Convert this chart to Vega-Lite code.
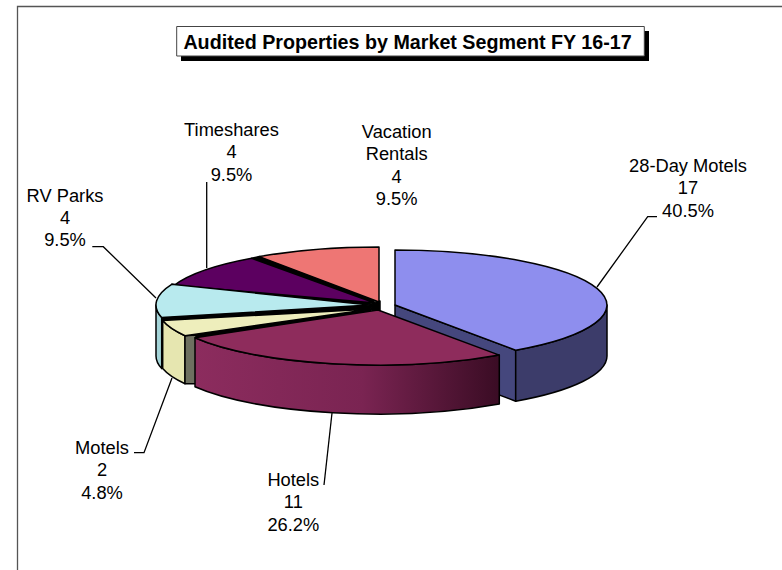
{
"$schema":"https://vega.github.io/schema/vega-lite/v6.json",
"width":782,"height":570,"padding":0,"autosize":{"type":"none"},
"background":"white",
"config":{"view":{"stroke":null}},
"datasets":{
"parts":[
{"part":"frame","group":"frame"},
{"part":"title shadow","group":"title"},
{"part":"title box","group":"box"},
{"part":"28-Day Motels inner","group":"pie"},
{"part":"28-Day Motels side","group":"pie"},
{"part":"28-Day Motels top","group":"pie"},
{"part":"wedge seams","group":"pie"},
{"part":"Vacation Rentals top","group":"pie"},
{"part":"Timeshares top","group":"pie"},
{"part":"RV Parks side","group":"pie"},
{"part":"RV Parks top","group":"pie"},
{"part":"Motels side","group":"pie"},
{"part":"Motels inner","group":"pie"},
{"part":"Motels top","group":"pie"},
{"part":"Hotels side","group":"hotelside"},
{"part":"Hotels top","group":"hoteltop"},
{"part":"28-Day Motels leader","group":"leader"},
{"part":"RV Parks leader","group":"leader"},
{"part":"Timeshares leader","group":"leader"},
{"part":"Motels leader","group":"leader"},
{"part":"Hotels leader","group":"leader"}
],
"labels":[
{"segment":"28-Day Motels","count":17,"pct":"40.5%","label":"28-Day Motels\n17\n40.5%"},
{"segment":"Hotels","count":11,"pct":"26.2%","label":"Hotels\n11\n26.2%"},
{"segment":"Motels","count":2,"pct":"4.8%","label":"Motels\n2\n4.8%"},
{"segment":"RV Parks","count":4,"pct":"9.5%","label":"RV Parks\n4\n9.5%"},
{"segment":"Timeshares","count":4,"pct":"9.5%","label":"Timeshares\n4\n9.5%"},
{"segment":"Vacation Rentals","count":4,"pct":"9.5%","label":"Vacation\nRentals\n4\n9.5%"}
],
"heading":[{"title":"Audited Properties by Market Segment FY 16-17"}]
},
"layer":[
{
"data":{"name":"parts"},
"encoding":{
"size":{"value":4},
"shape":{"field":"part","type":"nominal","legend":null,"scale":{
"domain":["frame","title shadow","title box","28-Day Motels inner","28-Day Motels side","28-Day Motels top","wedge seams","Vacation Rentals top","Timeshares top","RV Parks side","RV Parks top","Motels side","Motels inner","Motels top","Hotels side","Hotels top","28-Day Motels leader","RV Parks leader","Timeshares leader","Motels leader","Hotels leader"],
"range":[
"M-373.5 285L-373.5 -278.5L391 -278.5",
"M-210 -254H258V-224H-210Z",
"M-214.3 -258.5H253.3V-229H-214.3Z",
"M4 20L124.7 65.2L124.7 116.2L4 71Z",
"M124.7 65.2A212 55 0 0 0 216 20L216 71A212 55 0 0 1 124.7 116.2Z",
"M4 -35A212 55 0 0 1 124.7 65.2L4 20Z",
"M-131.7 -28.4L-139.3 -26.7L-16 18L-12 17ZM-216.7 0.3L-219.3 -0.7L-21 20L-16 18ZM-229.3 32.6L-228.3 35.5L-19 24L-21 20ZM-206 50.7L-196 52.8L-13 25L-19 24ZM-21 16H-11V27H-21Z",
"M-12 -38L-12 17L-131.7 -28.4A212 55 0 0 1 -12 -38Z",
"M-139.3 -26.7L-16 18L-216.7 0.3A212 55 0 0 1 -139.3 -26.7Z",
"M-229.3 32.6A214 55 0 0 1 -235 20L-235 71A214 55 0 0 0 -229.3 83.6Z",
"M-219.3 -0.7L-21 20L-229.3 32.6A214 55 0 0 1 -219.3 -0.7Z",
"M-228.3 35.5A214 55 0 0 0 -206 50.7L-206 98.7A214 55 0 0 1 -228.3 83.5Z",
"M-206 50.7L-195 50L-195 98.7L-206 98.7Z",
"M-228.3 35.5L-19 24L-206 50.7A214 55 0 0 1 -228.3 35.5Z",
"M-196 52.8A212 55 0 0 0 108.3 70.1L108.3 119.1A212 55 0 0 1 -196 101.8Z",
"M-196 52.8L-13 25L108.3 70.1A212 55 0 0 1 -196 52.8Z",
"M266 -68.3L256.7 -68.3L206 2",
"M-298.7 -38.3L-287.7 -38.3L-235 13",
"M-184.3 -103L-184.3 -17",
"M-257 167.7L-247 167.7L-219 93",
"M-67 200L-59 128"
]}},
"fill":{"field":"part","type":"nominal","legend":null,"scale":{
"domain":["frame","title shadow","title box","28-Day Motels inner","28-Day Motels side","28-Day Motels top","wedge seams","Vacation Rentals top","Timeshares top","RV Parks side","RV Parks top","Motels side","Motels inner","Motels top","Hotels side","Hotels top","28-Day Motels leader","RV Parks leader","Timeshares leader","Motels leader","Hotels leader"],
"range":["transparent","#000000","#ffffff","#45477d","#3c3c6a","#8e8eee","#000000","#ee7674","#5c0060","#a4d4d8","#b8eaee","#e6e6b0","#6e7060","#eeeebc","#7a2452","#8e2c5c","transparent","transparent","transparent","transparent","transparent"]}}
},
"layer":[
{"transform":[{"filter":"datum.group=='frame'"}],"mark":{"type":"point","filled":true,"opacity":1,"stroke":"#555555","strokeWidth":1.3}},
{"transform":[{"filter":"datum.group=='title'"}],"mark":{"type":"point","filled":true,"opacity":1,"strokeWidth":0}},
{"transform":[{"filter":"datum.group=='box'"}],"mark":{"type":"point","filled":true,"opacity":1,"stroke":"#444444","strokeWidth":1}},
{"transform":[{"filter":"datum.group=='pie'"}],"mark":{"type":"point","filled":true,"opacity":1,"stroke":"#000000","strokeWidth":1.5,"strokeJoin":"round"}},
{"transform":[{"filter":"datum.group=='hotelside'"}],"mark":{"type":"point","filled":true,"opacity":1,"stroke":"#000000","strokeWidth":1.5,"strokeJoin":"round"},"encoding":{"fill":{"value":{"gradient":"linear","x1":0,"y1":0,"x2":1,"y2":0,"stops":[{"offset":0,"color":"#8c2c5e"},{"offset":0.55,"color":"#7a2452"},{"offset":1,"color":"#3a0c24"}]}}}},
{"transform":[{"filter":"datum.group=='hoteltop'"}],"mark":{"type":"point","filled":true,"opacity":1,"stroke":"#000000","strokeWidth":1.5,"strokeJoin":"round"}},
{"transform":[{"filter":"datum.group=='leader'"}],"mark":{"type":"point","filled":true,"opacity":1,"stroke":"#000000","strokeWidth":1.3}}
]
},
{
"data":{"name":"labels"},
"encoding":{"text":{"field":"label","type":"nominal"}},
"layer":[
{"transform":[{"filter":"datum.segment=='28-Day Motels'"}],"mark":{"type":"text","font":"Liberation Sans","fontSize":18.3,"lineBreak":"\n","lineHeight":22.3,"align":"center","baseline":"alphabetic","fill":"#000000"},"encoding":{"x":{"datum":688,"type":"quantitative","scale":{"domain":[0,782]},"axis":null},"y":{"datum":172,"type":"quantitative","scale":{"domain":[0,570],"reverse":true},"axis":null}}},
{"transform":[{"filter":"datum.segment=='Hotels'"}],"mark":{"type":"text","font":"Liberation Sans","fontSize":18.3,"lineBreak":"\n","lineHeight":22.3,"align":"center","baseline":"alphabetic","fill":"#000000"},"encoding":{"x":{"datum":293.3,"type":"quantitative","scale":{"domain":[0,782]},"axis":null},"y":{"datum":486,"type":"quantitative","scale":{"domain":[0,570],"reverse":true},"axis":null}}},
{"transform":[{"filter":"datum.segment=='Motels'"}],"mark":{"type":"text","font":"Liberation Sans","fontSize":18.3,"lineBreak":"\n","lineHeight":22.3,"align":"center","baseline":"alphabetic","fill":"#000000"},"encoding":{"x":{"datum":102,"type":"quantitative","scale":{"domain":[0,782]},"axis":null},"y":{"datum":454,"type":"quantitative","scale":{"domain":[0,570],"reverse":true},"axis":null}}},
{"transform":[{"filter":"datum.segment=='RV Parks'"}],"mark":{"type":"text","font":"Liberation Sans","fontSize":18.3,"lineBreak":"\n","lineHeight":22.3,"align":"center","baseline":"alphabetic","fill":"#000000"},"encoding":{"x":{"datum":65,"type":"quantitative","scale":{"domain":[0,782]},"axis":null},"y":{"datum":201.7,"type":"quantitative","scale":{"domain":[0,570],"reverse":true},"axis":null}}},
{"transform":[{"filter":"datum.segment=='Timeshares'"}],"mark":{"type":"text","font":"Liberation Sans","fontSize":18.3,"lineBreak":"\n","lineHeight":22.3,"align":"center","baseline":"alphabetic","fill":"#000000"},"encoding":{"x":{"datum":231.5,"type":"quantitative","scale":{"domain":[0,782]},"axis":null},"y":{"datum":136,"type":"quantitative","scale":{"domain":[0,570],"reverse":true},"axis":null}}},
{"transform":[{"filter":"datum.segment=='Vacation Rentals'"}],"mark":{"type":"text","font":"Liberation Sans","fontSize":18.3,"lineBreak":"\n","lineHeight":22.3,"align":"center","baseline":"alphabetic","fill":"#000000"},"encoding":{"x":{"datum":396.7,"type":"quantitative","scale":{"domain":[0,782]},"axis":null},"y":{"datum":138,"type":"quantitative","scale":{"domain":[0,570],"reverse":true},"axis":null}}}
]
},
{
"data":{"name":"heading"},
"mark":{"type":"text","font":"Liberation Sans","fontSize":19.7,"fontWeight":"bold","align":"center","baseline":"alphabetic","fill":"#000000"},
"encoding":{"text":{"field":"title","type":"nominal"},"x":{"datum":407.5,"type":"quantitative","scale":{"domain":[0,782]},"axis":null},"y":{"datum":48.5,"type":"quantitative","scale":{"domain":[0,570],"reverse":true},"axis":null}}
}
]
}
